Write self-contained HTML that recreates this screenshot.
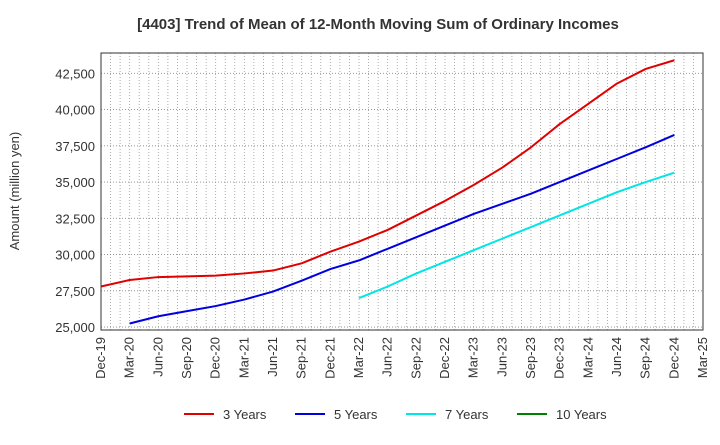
<!DOCTYPE html>
<html><head><meta charset="utf-8"><style>
body{margin:0;background:#fff;font-family:"Liberation Sans",sans-serif;}
</style></head><body>
<svg id="chart" width="720" height="440" xmlns="http://www.w3.org/2000/svg" font-family="Liberation Sans, sans-serif">
<text x="378" y="29" text-anchor="middle" font-size="15" font-weight="bold" fill="#333">[4403]  Trend of Mean of 12-Month Moving Sum of Ordinary Incomes</text>
<text transform="translate(19,191) rotate(-90)" text-anchor="middle" font-size="13" fill="#333">Amount (million yen)</text>
<g id="grid"></g><g id="axes"></g><g id="series"></g><g id="legend"></g>
</svg>
<script>
const xLabels=["Dec-19","Mar-20","Jun-20","Sep-20","Dec-20","Mar-21","Jun-21","Sep-21","Dec-21","Mar-22","Jun-22","Sep-22","Dec-22","Mar-23","Jun-23","Sep-23","Dec-23","Mar-24","Jun-24","Sep-24","Dec-24","Mar-25"];
const yTicks=[25000,27500,30000,32500,35000,37500,40000,42500];
const s3=[27800,28250,28450,28500,28550,28700,28900,29400,30200,30900,31700,32700,33700,34800,36000,37400,39000,40400,41800,42800,43400];
const s5=[null,25250,25750,26100,26450,26900,27450,28200,29000,29600,30400,31200,32000,32800,33500,34200,35000,35800,36600,37400,38250];
const s7=[null,null,null,null,null,null,null,null,null,27000,27800,28700,29500,30300,31100,31900,32700,33500,34300,35000,35650];
const s10=[];
const L=101,R=703,T=53,B=330,yMin=24800,yMax=43900;
const xq=i=>L+(R-L)*i/21;
const y=v=>B-(v-yMin)/(yMax-yMin)*(B-T);
const NS="http://www.w3.org/2000/svg";
function mk(tag,attrs,parent){const e=document.createElementNS(NS,tag);for(const k in attrs)e.setAttribute(k,attrs[k]);document.getElementById(parent).appendChild(e);return e;}
for(let m=1;m<63;m++){const x=L+(R-L)*m/63;
const g=mk('line',{x1:x,x2:x,y1:T,y2:B,stroke:'#999','stroke-dasharray':'1,2','stroke-width':0.8},'grid');

}
yTicks.forEach(v=>{const g=mk('line',{x1:L,x2:R,y1:y(v),y2:y(v),stroke:'#888','stroke-dasharray':'1,2','stroke-width':0.9},'grid');


const t=mk('text',{x:L-6,y:y(v)+5,'text-anchor':'end','font-size':13,fill:'#333'},'axes');t.textContent=v.toLocaleString('en-US');

});
xLabels.forEach((l,i)=>{const t=mk('text',{transform:`translate(${xq(i)+4},${B+7}) rotate(-90)`,'text-anchor':'end','font-size':13,fill:'#333'},'axes');t.textContent=l;

});
const f=mk('rect',{x:L,y:T,width:R-L,height:B-T,fill:'none',stroke:'#333','stroke-width':1},'axes');


function line(data,color,name){const pts=[];data.forEach((v,i)=>{if(v!=null)pts.push(xq(i)+','+y(v));});if(pts.length<2)return;
const p=mk('polyline',{points:pts.join(' '),fill:'none',stroke:color,'stroke-width':2,'stroke-linejoin':'round'},'series');

}
line(s3,'#e00000','line-3-years');line(s5,'#0000e0','line-5-years');line(s7,'#00e5e5','line-7-years');line(s10,'#008000','line-10-years');
const leg=[["3 Years","#e00000",184],["5 Years","#0000e0",295],["7 Years","#00e5e5",406],["10 Years","#008000",517]];
leg.forEach(([n,c,x])=>{const l=mk('line',{x1:x,x2:x+30,y1:414,y2:414,stroke:c,'stroke-width':2},'legend');


const t=mk('text',{x:x+39,y:419,'font-size':13,fill:'#333'},'legend');t.textContent=n;

});
</script>
</body></html>
